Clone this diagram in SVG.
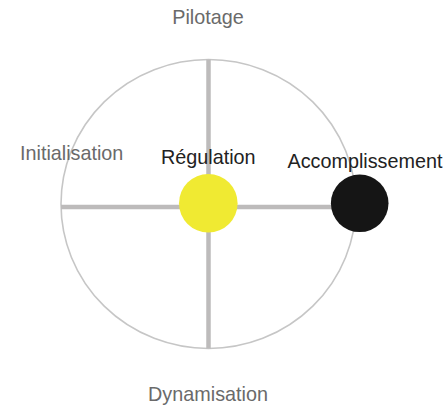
<svg xmlns="http://www.w3.org/2000/svg" width="446" height="408" viewBox="0 0 446 408">
<style>
.lbl{font-family:"Liberation Sans",Arial,sans-serif;font-size:19.8px;}
.gray{fill:#6a6a6a;}
.dark{fill:#222222;}
.axis{stroke:#bdbbbb;stroke-width:4.5;fill:none;}
.ring{stroke:#c6c6c6;stroke-width:1.6;fill:none;}
</style>
<rect width="446" height="408" fill="#ffffff"/>
<g id="ring">
<ellipse class="ring" cx="208.5" cy="204" rx="147.5" ry="144.5"/>
</g>
<g id="connectors">
<line class="axis" x1="208.5" y1="59.5" x2="208.5" y2="348.5"/>
<line class="axis" x1="61" y1="207" x2="340" y2="207"/>
</g>
<g id="pilotage"><text class="lbl gray" x="208" y="24" text-anchor="middle">Pilotage</text></g>
<g id="initialisation"><text class="lbl gray" x="20" y="160">Initialisation</text></g>
<g id="dynamisation"><text class="lbl gray" x="208" y="400.5" text-anchor="middle">Dynamisation</text></g>
<g id="regulation">
<circle cx="208.3" cy="203.3" r="29.3" fill="#f0ea32"/>
<text class="lbl dark" x="208.3" y="164" text-anchor="middle">Régulation</text>
</g>
<g id="accomplissement">
<circle cx="359.7" cy="203.3" r="28.8" fill="#151515"/>
<text class="lbl dark" x="365" y="168" text-anchor="middle">Accomplissement</text>
</g>
</svg>
